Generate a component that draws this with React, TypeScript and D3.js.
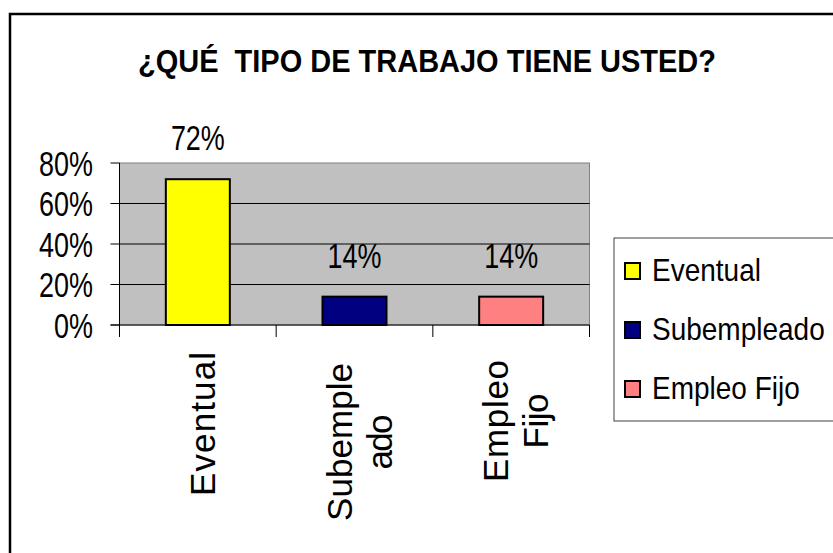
import React from "react";
import * as d3 from "d3";

const categories = ["Eventual", "Subempleado", "Empleo Fijo"];
const values = [0.72, 0.14, 0.14];
const axisLabelLines = [["Eventual"], ["Subemple", "ado"], ["Empleo", "Fijo"]];
const axisLabelLengths = [[144], [158, 55], [122, 55]];
const yTicks = [0, 0.2, 0.4, 0.6, 0.8];
const colors = ["#ffff00", "#000080", "#ff8080"];
const titleText = "¿QUÉ  TIPO DE TRABAJO TIENE USTED?";

const W = 833;
const H = 553;
const FONT = "Arial, 'Liberation Sans', sans-serif";

export default function App() {
  const plotL = 119.5, plotR = 589.5, plotT = 163, plotB = 325;
  const x = d3
    .scaleBand<string>()
    .domain(categories)
    .range([plotL, plotR])
    .paddingInner(0.5915)
    .paddingOuter(0.29575);
  const y = d3.scaleLinear().domain([0, 0.8]).range([plotB, plotT]);
  const step = x.step();
  const fmt = d3.format(".0%");
  const labelCenterY = [424, 442, 421];
  const condensed = 0.77;

  return (
    <svg
      width={W}
      height={H}
      style={{ position: "absolute", left: 0, top: 0, background: "#fff" }}
    >
      {/* outer frame */}
      <rect x={10} y={14} width={900} height={700} fill="#fff" stroke="#000" strokeWidth={2.5} />

      {/* title */}
      <text
        x={427}
        y={72}
        textAnchor="middle"
        fontFamily={FONT}
        fontWeight="bold"
        fontSize={31}
        textLength={578}
        lengthAdjust="spacingAndGlyphs"
        style={{ whiteSpace: "pre" }}
        xmlSpace="preserve"
      >
        {titleText}
      </text>

      {/* plot area */}
      <rect x={plotL} y={plotT} width={plotR - plotL} height={plotB - plotT} fill="#c0c0c0" stroke="#808080" strokeWidth={1} />
      {yTicks.slice(1, -1).map((t) => (
        <line key={t} x1={plotL} x2={plotR} y1={y(t)} y2={y(t)} stroke="#000" strokeWidth={1} />
      ))}

      {/* bars */}
      {categories.map((c, i) => (
        <rect
          key={c}
          x={x(c)}
          y={y(values[i])}
          width={x.bandwidth()}
          height={plotB - y(values[i])}
          fill={colors[i]}
          stroke="#000"
          strokeWidth={2}
        />
      ))}

      {/* axes */}
      <line x1={plotL} x2={plotL} y1={plotT} y2={plotB + 12} stroke="#000" strokeWidth={1} />
      <line x1={plotL - 9} x2={plotR} y1={plotB} y2={plotB} stroke="#000" strokeWidth={1} />
      {yTicks.map((t) => (
        <line key={"t" + t} x1={plotL - 9} x2={plotL} y1={y(t)} y2={y(t)} stroke="#000" strokeWidth={1} />
      ))}
      {d3.range(categories.length + 1).map((i) => (
        <line key={"xt" + i} x1={plotL + i * step} x2={plotL + i * step} y1={plotB} y2={plotB + 12} stroke="#000" strokeWidth={1} />
      ))}

      {/* y tick labels */}
      {yTicks.map((t) => (
        <text
          key={"yl" + t}
          transform={`translate(93,${y(t) + 12.5}) scale(${condensed},1)`}
          textAnchor="end"
          fontFamily={FONT}
          fontSize={35}
        >
          {fmt(t)}
        </text>
      ))}

      {/* data labels */}
      {categories.map((c, i) => (
        <text
          key={"dl" + c}
          transform={`translate(${(x(c) as number) + x.bandwidth() / 2},${y(values[i]) - 29}) scale(${condensed},1)`}
          textAnchor="middle"
          fontFamily={FONT}
          fontSize={35}
        >
          {fmt(values[i])}
        </text>
      ))}

      {/* x category labels (rotated) */}
      {categories.map((c, i) => {
        const cx = plotL + (i + 0.5) * step;
        const lines = axisLabelLines[i];
        const n = lines.length;
        return lines.map((ln, j) => {
          const bx = cx + 4 + (j - (n - 1) / 2) * 40 + 13;
          return (
            <text
              key={c + j}
              transform={`translate(${bx},${labelCenterY[i]}) rotate(-90)`}
              textAnchor="middle"
              fontFamily={FONT}
              fontSize={35}
              textLength={axisLabelLengths[i][j]}
              lengthAdjust="spacing"
            >
              {ln}
            </text>
          );
        });
      })}

      {/* legend */}
      <rect x={614} y={238} width={260} height={183} fill="#fff" stroke="#404040" strokeWidth={1} />
      {categories.map((c, i) => {
        const base = 281 + i * 59;
        return (
          <g key={"lg" + c}>
            <rect x={625} y={base - 18} width={15} height={16} fill={colors[i]} stroke="#000" strokeWidth={2} />
            <text
              transform={`translate(652,${base}) scale(1,1.12)`}
              fontFamily={FONT}
              fontSize={28}
            >
              {c}
            </text>
          </g>
        );
      })}
    </svg>
  );
}
